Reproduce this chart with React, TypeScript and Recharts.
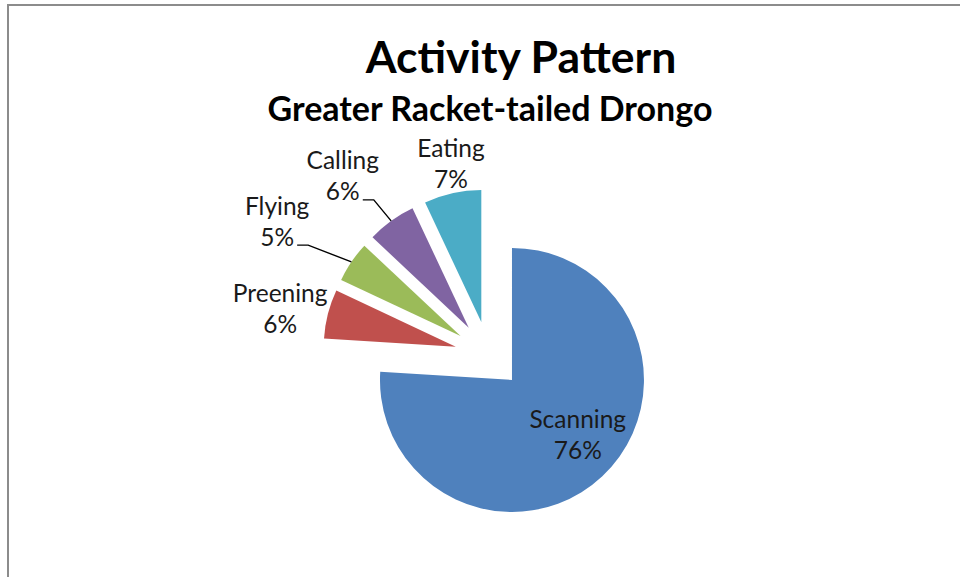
import React from "react";
import { PieChart, Pie, Cell } from "recharts";

const categories = ["Scanning", "Preening", "Flying", "Calling", "Eating"];
const values = [76, 6, 5, 6, 7];
const colors = ["#4F81BD", "#C0504D", "#9BBB59", "#8064A2", "#4BACC6"];
// label placement relative to each slice: radial extra beyond outer radius, and angular nudge (deg)
const labelExtra = [-47, 48, 85, 66, 30];
const labelTurn = [7.5, 1.7, 1.9, 3.5, -1.8];

const W = 960;
const H = 577;
const CX = 488.7;
const CY = 355.2;
const R = 132;
const EXPLODE = 34;
const FONT = "Lato, 'Open Sans', sans-serif";
const RAD = Math.PI / 180;

const data = categories.map((name, i) => ({ name, value: values[i] }));
const total = values.reduce((a, b) => a + b, 0);

// mid angle (recharts convention: degrees ccw from 3 o'clock), clockwise from 90
const midAngles: number[] = (() => {
  let acc = 0;
  return values.map((v) => {
    const start = 90 - (acc / total) * 360;
    acc += v;
    const end = 90 - (acc / total) * 360;
    return (start + end) / 2;
  });
})();

function makeLabel(slice: number) {
  return (props: any) => {
    const { index, cx, cy, midAngle, outerRadius, percent, name } = props;
    if (index !== slice) return null;
    const ca = Math.cos(-midAngle * RAD);
    const sa = Math.sin(-midAngle * RAD);
    const la = midAngle + labelTurn[index];
    const dist = outerRadius + labelExtra[index];
    const lx = cx + dist * Math.cos(-la * RAD);
    const ly = cy + dist * Math.sin(-la * RAD);
    const mx = cx + outerRadius * ca;
    const my = cy + outerRadius * sa;
    const pct = `${Math.round(percent * 100)}%`;
    return (
      <g>
        {labelExtra[index] > 60 && (
          <polyline
            points={`${lx + 20},${ly + 25} ${lx + 31},${ly + 25} ${mx},${my}`}
            fill="none"
            stroke="#000"
            strokeWidth={1.4}
          />
        )}
        <text
          x={lx}
          y={ly - 15}
          textAnchor="middle"
          dominantBaseline="central"
          fontFamily={FONT}
          fontSize={24.5}
          fill="#1a1a1a"
        >
          {name}
        </text>
        <text
          x={lx}
          y={ly + 16}
          textAnchor="middle"
          dominantBaseline="central"
          fontFamily={FONT}
          fontSize={24.5}
          fill="#1a1a1a"
        >
          {pct}
        </text>
      </g>
    );
  };
}

export default function App() {
  return (
    <div style={{ position: "absolute", left: 0, top: 0, width: W, height: H, background: "#fff" }}>
      <PieChart width={W} height={H} margin={{ top: 0, right: 0, bottom: 0, left: 0 }}>
        <rect x={8} y={5} width={1200} height={1000} fill="#fff" stroke="#8c8c8c" strokeWidth={2} />
        <text
          x={521}
          y={73}
          textAnchor="middle"
          fontFamily={FONT}
          fontWeight="bold"
          fontSize={44.5}
          fill="#000"
        >
          Activity Pattern
        </text>
        <text
          x={490}
          y={121}
          textAnchor="middle"
          fontFamily={FONT}
          fontWeight="bold"
          fontSize={34}
          fill="#000"
        >
          Greater Racket-tailed Drongo
        </text>
        {categories.map((cat, i) => (
          <Pie
            key={cat}
            data={data}
            dataKey="value"
            nameKey="name"
            cx={CX + EXPLODE * Math.cos(-midAngles[i] * RAD)}
            cy={CY + EXPLODE * Math.sin(-midAngles[i] * RAD)}
            outerRadius={R}
            innerRadius={0}
            startAngle={90}
            endAngle={-270}
            stroke="none"
            isAnimationActive={false}
            labelLine={false}
            label={makeLabel(i)}
          >
            {data.map((d, j) => (
              <Cell key={d.name} fill={j === i ? colors[j] : "none"} stroke="none" />
            ))}
          </Pie>
        ))}
      </PieChart>
    </div>
  );
}
